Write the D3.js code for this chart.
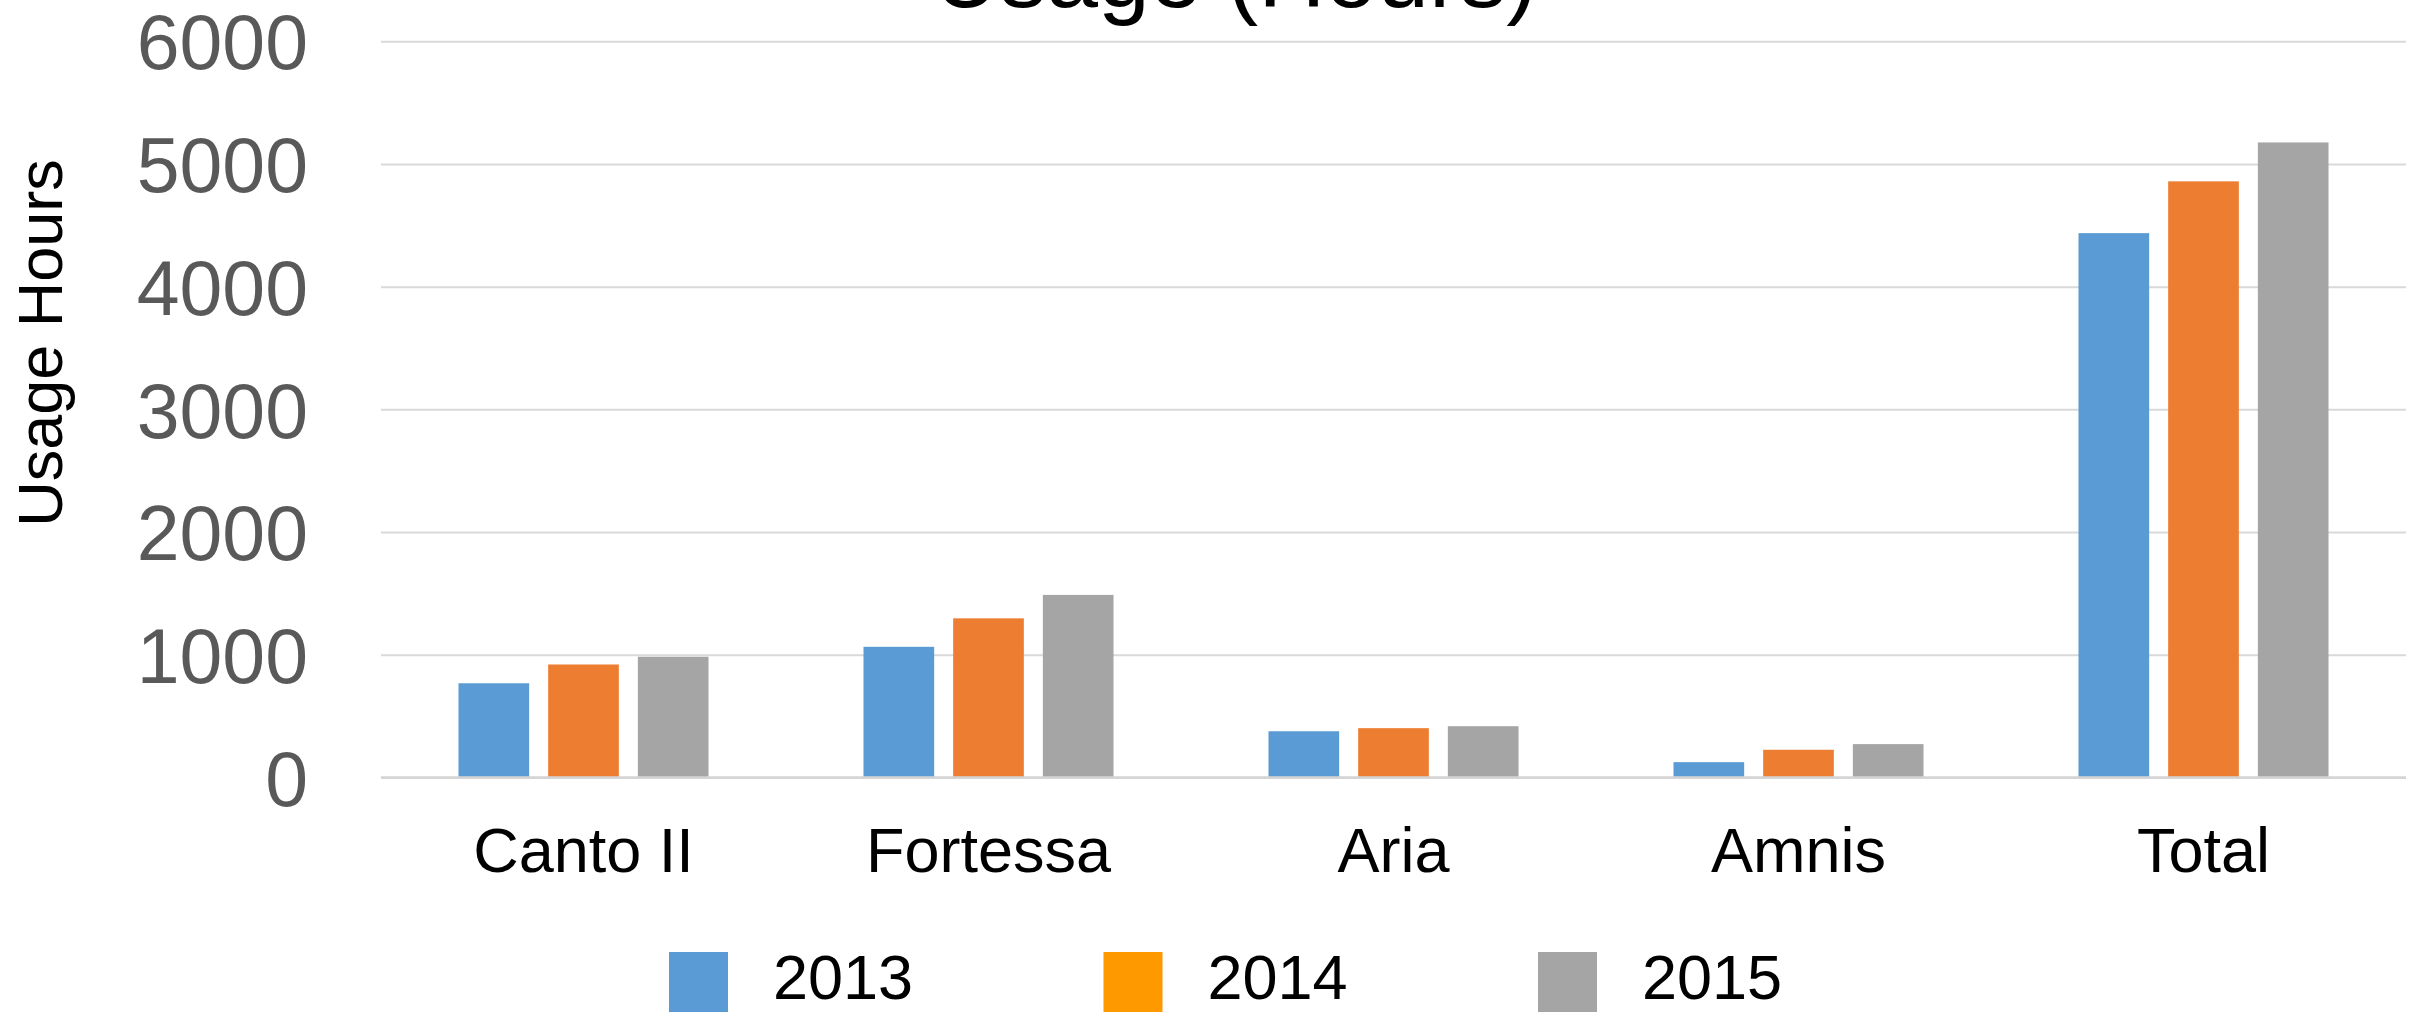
<!DOCTYPE html>
<html>
<head>
<meta charset="utf-8">
<script src="https://cdn.jsdelivr.net/npm/d3@7"></script>
<style>
  html, body { margin: 0; padding: 0; background: #fff; }
  svg { display: block; font-family: "Liberation Sans", Arial, sans-serif; }
</style>
</head>
<body>
<div id="chart"></div>
<script>
var categories = ["Canto II", "Fortessa", "Aria", "Amnis", "Total"]
var years = ["2013", "2014", "2015"]
var hours2013 = [768, 1065, 377, 125, 4436]
var hours2014 = [921, 1297, 402, 226, 4858]
var hours2015 = [984, 1488, 418, 272, 5175]
var yTicks = [0, 1000, 2000, 3000, 4000, 5000, 6000]

var barColors = ["#5B9BD5", "#ED7D31", "#A5A5A5"]
var legendColors = ["#5B9BD5", "#FF9900", "#A5A5A5"]

var width = 2418, height = 1014
var plot = {left: 381, right: 2406, top: 41.2, bottom: 777.5}

var series = [hours2013, hours2014, hours2015]

var svg = d3.select("#chart").append("svg")
  .attr("width", width)
  .attr("height", height)

var x0 = d3.scaleBand()
  .domain(categories)
  .range([plot.left, plot.right])
  .paddingInner(0.3827)
  .paddingOuter(0.3827 / 2)

var x1 = d3.scaleBand()
  .domain(years)
  .range([0, x0.bandwidth()])
  .paddingInner(0.212)
  .paddingOuter(0)

var y = d3.scaleLinear()
  .domain([0, 6000])
  .range([plot.bottom, plot.top])

// gridlines + tick labels
var yAxis = svg.append("g")
  .attr("transform", "translate(" + plot.left + ",0)")
  .call(d3.axisLeft(y).tickValues(yTicks).tickFormat(d3.format("d"))
    .tickSize(-(plot.right - plot.left)).tickPadding(73))
yAxis.select(".domain").remove()
yAxis.selectAll(".tick line")
  .attr("stroke", "#D9D9D9")
  .attr("stroke-width", 2)
yAxis.selectAll(".tick text")
  .attr("fill", "#595959")
  .attr("font-size", 77)
  .attr("dy", "0.36em")
  .style("font-family", "'Liberation Sans', Arial, sans-serif")

// bars
var groups = svg.append("g").selectAll("g")
  .data(categories)
  .enter().append("g")
  .attr("transform", function(d) { return "translate(" + x0(d) + ",0)" })

groups.selectAll("rect")
  .data(function(d, i) {
    return years.map(function(yr, j) { return {year: yr, value: series[j][i], k: j} })
  })
  .enter().append("rect")
  .attr("x", function(d) { return x1(d.year) })
  .attr("width", x1.bandwidth())
  .attr("y", function(d) { return y(d.value) })
  .attr("height", function(d) { return y(0) - y(d.value) })
  .attr("fill", function(d) { return barColors[d.k] })

// baseline
svg.append("line")
  .attr("x1", plot.left).attr("x2", plot.right)
  .attr("y1", y(0)).attr("y2", y(0))
  .attr("stroke", "#D4D4D4")
  .attr("stroke-width", 2.5)

// category labels
var xAxis = svg.append("g")
  .attr("transform", "translate(0," + plot.bottom + ")")
  .call(d3.axisBottom(x0).tickSize(0))
xAxis.select(".domain").remove()
xAxis.selectAll(".tick text")
  .attr("y", 94.2)
  .attr("dy", 0)
  .attr("fill", "#000")
  .attr("font-size", 63)
  .style("font-family", "'Liberation Sans', Arial, sans-serif")

// title (cut off at the top edge, as in the source)
svg.append("text")
  .attr("x", 1235)
  .attr("y", 7)
  .attr("text-anchor", "middle")
  .attr("font-size", 93)
  .attr("fill", "#000")
  .text("Usage (Hours)")

// y axis title
svg.append("text")
  .attr("transform", "translate(62,343) rotate(-90)")
  .attr("text-anchor", "middle")
  .attr("font-size", 63)
  .attr("fill", "#000")
  .text("Usage Hours")

// legend
var lx = d3.scalePoint().domain(years).range([669, 1538])
var legend = svg.append("g").selectAll("g")
  .data(years)
  .enter().append("g")
  .attr("transform", function(d) { return "translate(" + lx(d) + ",952)" })
legend.append("rect")
  .attr("width", 59)
  .attr("height", 60)
  .attr("fill", function(d, i) { return legendColors[i] })
legend.append("text")
  .attr("x", 104)
  .attr("y", 47)
  .attr("font-size", 63)
  .attr("fill", "#000")
  .text(function(d) { return d })
</script>
</body>
</html>
